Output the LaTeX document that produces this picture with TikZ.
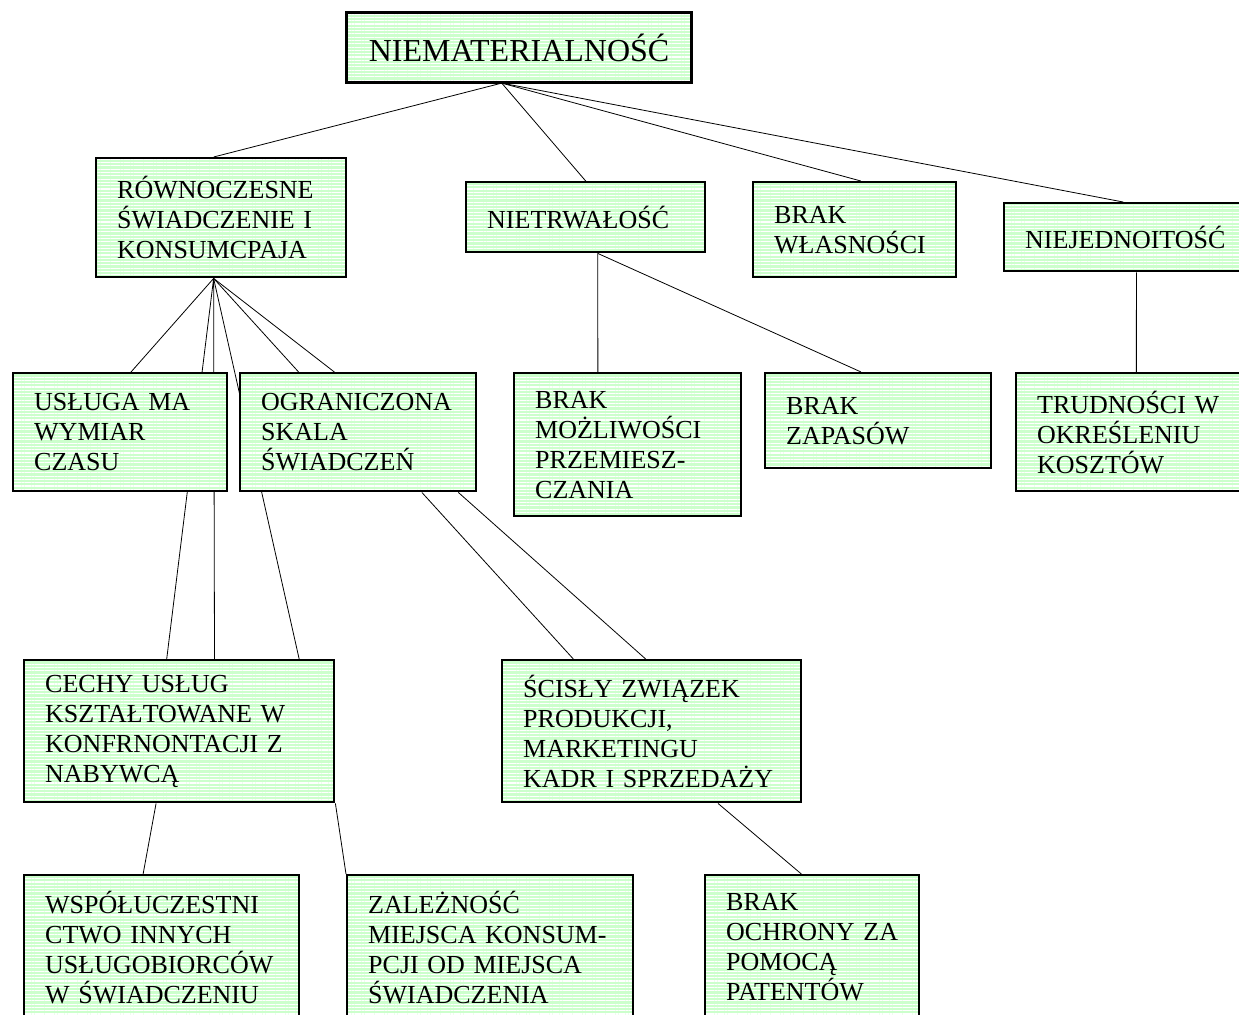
\documentclass[tikz,border=0pt]{standalone}
\usepackage{fontspec}
\setmainfont{Liberation Serif}
\usetikzlibrary{calc,patterns.meta}
\definecolor{lgreen}{RGB}{204,255,204}
\pgfdeclarelayer{bg}
\pgfsetlayers{bg,main}

\begin{document}
\begin{tikzpicture}
[x=0.5pt, y=-0.5pt, line width=0.95pt,
card/.style={draw, line width=1.2pt, anchor=north west, align=left,
    preaction={fill=lgreen},
    pattern={Lines[distance=1.65pt, line width=0.55pt]}, pattern color=white,
    inner xsep=10.5pt, font=\fontsize{13}{15}\selectfont}]

\clip (0,0) rectangle (1239,1014);

\node[card, align=center, inner xsep=0pt, minimum width=172.5pt, minimum height=35pt,
    font=\fontsize{16}{18}\selectfont] (niem) at (346,12) {NIEMATERIALNOŚĆ};

\node[card, text width=104pt, minimum height=59.5pt] (rown) at (95,157)
    {RÓWNOCZESNE\\ŚWIADCZENIE I\\KONSUMCPAJA};
\node[card, text width=98.5pt, minimum height=35pt] (nietr) at (465,181) {NIETRWAŁOŚĆ};
\node[card, text width=80.5pt, minimum height=47.5pt] (brakw) at (752,181) {BRAK\\WŁASNOŚCI};
\node[card, text width=98pt, minimum height=34pt] (niej) at (1003,202) {NIEJEDNOITOŚĆ};

\node[card, text width=86pt, minimum height=59pt] (uslu) at (12,372) {USŁUGA MA\\WYMIAR\\CZASU};
\node[card, text width=97pt, minimum height=59pt] (ogr) at (239,372) {OGRANICZONA\\SKALA\\ŚWIADCZEŃ};
\node[card, text width=92.5pt, minimum height=71.5pt] (mozl) at (513,372)
    {BRAK\\MOŻLIWOŚCI\\PRZEMIESZ-\\CZANIA};
\node[card, text width=92pt, minimum height=47.5pt] (zapas) at (764,372) {BRAK\\ZAPASÓW};
\node[card, text width=91pt, minimum height=59pt] (trud) at (1015,372)
    {TRUDNOŚCI W\\OKREŚLENIU\\KOSZTÓW};

\node[card, text width=134pt, minimum height=71pt] (cechy) at (23,659)
    {CECHY USŁUG\\KSZTAŁTOWANE W\\KONFRNONTACJI Z\\NABYWCĄ};
\node[card, text width=128.5pt, minimum height=71pt] (scis) at (501,659)
    {ŚCISŁY ZWIĄZEK\\PRODUKCJI,\\MARKETINGU\\KADR I SPRZEDAŻY};

\node[card, text width=116.5pt, minimum height=72pt] (wspol) at (23,874)
    {WSPÓŁUCZESTNI\\CTWO INNYCH\\USŁUGOBIORCÓW\\W ŚWIADCZENIU};
\node[card, text width=122pt, minimum height=72pt] (zalez) at (346,874)
    {ZALEŻNOŚĆ\\MIEJSCA KONSUM-\\PCJI OD MIEJSCA\\ŚWIADCZENIA};
\node[card, text width=86pt, minimum height=72pt] (ochr) at (704,874)
    {BRAK\\OCHRONY ZA\\POMOCĄ\\PATENTÓW};

\begin{pgfonlayer}{bg}
% level 1
\foreach \t/\p in {rown/.47, nietr/.5, brakw/.53, niej/.5} {
    \draw ($(niem.south west)!.45!(niem.south east)$) -- ($(\t.north west)!\p!(\t.north east)$);
}
% lines under the first box
\foreach \t/\p in {uslu/.55, cechy/.46, cechy/.613, cechy/.884, ogr/.25, ogr/.4} {
    \draw ($(rown.south west)!.47!(rown.south east)$) -- ($(\t.north west)!\p!(\t.north east)$);
}
\foreach \t/\p in {mozl/.37, zapas/.425} {
    \draw ($(nietr.south west)!.55!(nietr.south east)$) -- ($(\t.north west)!\p!(\t.north east)$);
}
\draw ($(niej.south west)!.555!(niej.south east)$) -- ($(trud.north west)!.536!(trud.north east)$);

\draw ($(ogr.south west)!.767!(ogr.south east)$) -- ($(scis.north west)!.24!(scis.north east)$);
\draw ($(ogr.south west)!.92!(ogr.south east)$) -- ($(scis.north west)!.48!(scis.north east)$);

\draw ($(cechy.south west)!.426!(cechy.south east)$) -- ($(wspol.north west)!.433!(wspol.north east)$);
\draw (cechy.south east) -- (zalez.north west);
\draw ($(scis.south west)!.72!(scis.south east)$) -- ($(ochr.north west)!.45!(ochr.north east)$);
\end{pgfonlayer}

\end{tikzpicture}
\end{document}
